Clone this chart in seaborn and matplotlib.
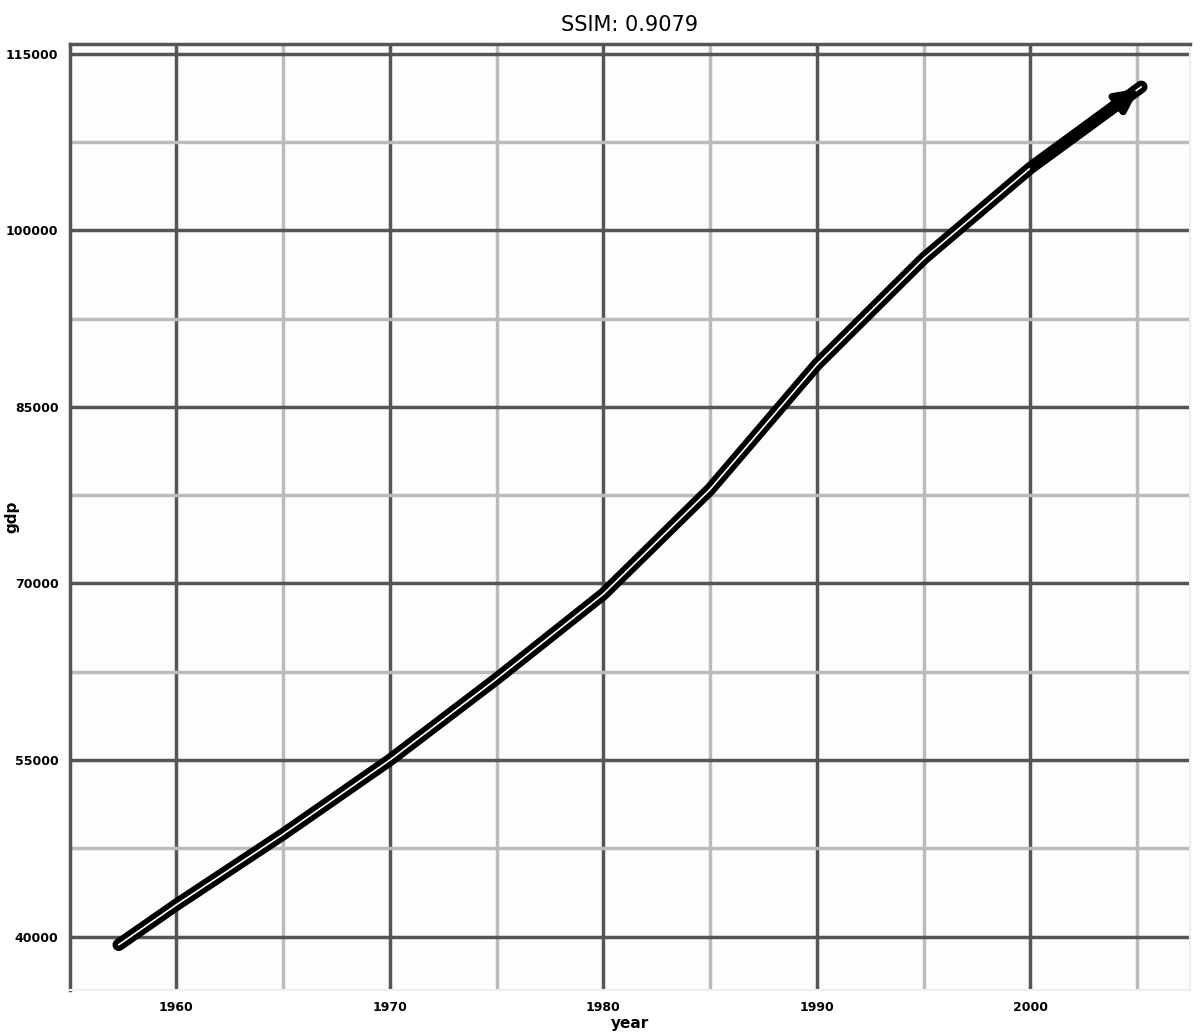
import matplotlib
matplotlib.use("Agg")
import matplotlib.pyplot as plt
import seaborn as sns
import pandas as pd

# values
years = [1957.3, 1960, 1965, 1970, 1975, 1980, 1985, 1990, 1995, 2000, 2005.2]
gdp = [39300, 42700, 48700, 55000, 61900, 69100, 78000, 88600, 97600, 105300, 112200]
x_ticks = [1960, 1970, 1980, 1990, 2000]
y_ticks = [40000, 55000, 70000, 85000, 100000, 115000]

df = pd.DataFrame({"year": years, "gdp": gdp})

sns.set_style("white")
fig, ax = plt.subplots(figsize=(12, 10.34), dpi=100)
fig.subplots_adjust(left=0.058, right=0.992, top=0.957, bottom=0.043)
ax.set_facecolor("#fdfdfd")

# thick black line with a thin white core
sns.lineplot(data=df, x="year", y="gdp", ax=ax, color="black", linewidth=9,
             solid_capstyle="round", solid_joinstyle="round")
sns.lineplot(data=df, x="year", y="gdp", ax=ax, color="white", linewidth=1.2)

# arrow head at the end of the line
ax.annotate("", xy=(years[-1], gdp[-1]), xytext=(years[-2], gdp[-2]),
            arrowprops=dict(arrowstyle="-|>", color="black", lw=5, mutation_scale=34))

ax.set_xlim(1955, 2007.5)
ax.set_ylim(35500, 115800)
ax.set_xticks(x_ticks)
ax.set_yticks(y_ticks)
ax.set_xticks([1965, 1975, 1985, 1995, 2005], minor=True)
ax.set_yticks([47500, 62500, 77500, 92500, 107500], minor=True)
ax.grid(True, which="major", color="#555555", linewidth=2.5)
ax.grid(True, which="minor", color="#bbbbbb", linewidth=2.5)
ax.set_axisbelow(True)

ax.tick_params(axis="both", which="major", length=6, width=2, color="black",
               labelsize=9, labelcolor="black", direction="out", pad=2)
ax.tick_params(axis="both", which="minor", length=0)
for lab in ax.get_xticklabels() + ax.get_yticklabels():
    lab.set_fontweight("bold")

for side in ["left", "top"]:
    ax.spines[side].set_color("#555555")
    ax.spines[side].set_linewidth(2.5)
for side in ["right", "bottom"]:
    ax.spines[side].set_color("#eeeeee")
    ax.spines[side].set_linewidth(1.5)

ax.set_xlabel("year", fontsize=11, fontweight="bold", color="black")
ax.set_ylabel("gdp", fontsize=11, fontweight="bold", color="black")
ax.xaxis.set_label_coords(0.5, -0.028)
ax.yaxis.set_label_coords(-0.045, 0.5)
ax.set_title("SSIM: 0.9079", fontsize=15, pad=10, color="black")

fig.savefig("out.png", dpi=100)
